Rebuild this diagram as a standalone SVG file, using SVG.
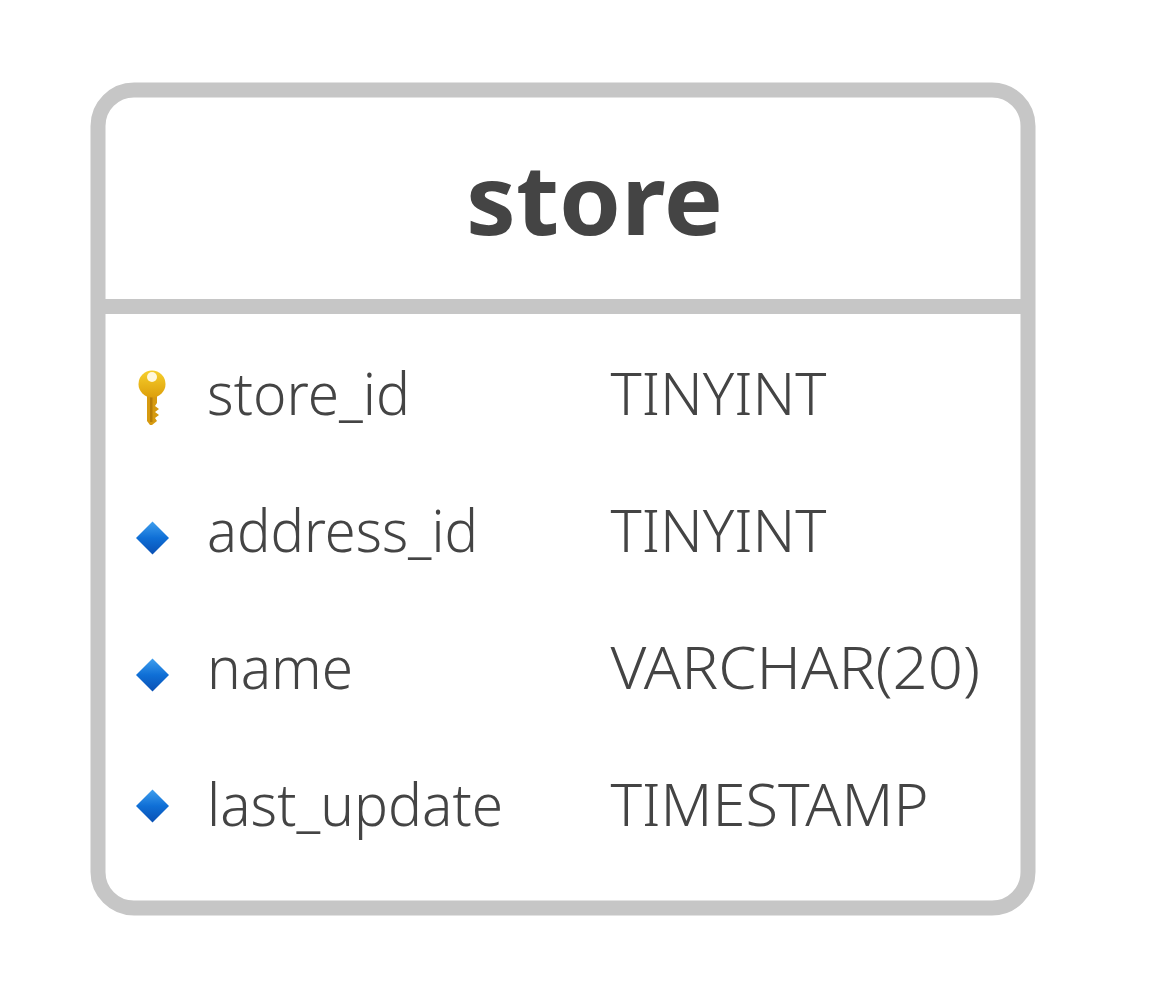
<svg xmlns="http://www.w3.org/2000/svg" width="1154" height="992" viewBox="0 0 1154 992">
<style>
.f{font-family:"Noto Sans","Noto Sans CJK KR",sans-serif;font-size:58px;font-weight:300;fill:#444}
.t{font-family:"Noto Sans","Noto Sans CJK KR",sans-serif;font-size:96px;font-weight:700;fill:#444}
</style>
<defs>
<linearGradient id="d" x1="0" y1="0" x2="0" y2="1"><stop offset="0" stop-color="#3f9fee"/><stop offset=".5" stop-color="#0f6fd6"/><stop offset="1" stop-color="#0a50b4"/></linearGradient>
<linearGradient id="k" x1="0" y1="0" x2="0" y2="1"><stop offset="0" stop-color="#f6cf2c"/><stop offset="1" stop-color="#dd9f0a"/></linearGradient>
<path id="dm" d="M0-16.500 16.500 0 0 16.500-16.500 0Z" fill="url(#d)"/>
</defs>
<rect width="1154" height="992" fill="#fff"/>
<g id="store">
<rect x="98" y="90" width="930" height="818" rx="36" fill="#fff" stroke="#c6c6c6" stroke-width="15"/>
<path d="M98 306.500H1028" stroke="#c6c6c6" stroke-width="15"/>
<text class="t" x="466" y="235" textLength="257" lengthAdjust="spacingAndGlyphs">store</text>
<g id="key"><path d="M147 394h10v9l-2 3 4 3-4 3 4 3-4 3 2 3-5 4h-2l-3-4z" fill="#d69a10"/><path d="M150 396h2.500v26h-2.500z" fill="#b57c08"/><circle cx="152" cy="384" r="13.500" fill="url(#k)"/><circle cx="152" cy="377" r="5" fill="#fff8dc"/></g>
<use href="#dm" x="152.500" y="538"/><use href="#dm" x="152.500" y="675"/><use href="#dm" x="152.500" y="806"/>
<text class="f" x="207" y="415" textLength="203" lengthAdjust="spacingAndGlyphs">store_id</text><text class="f" x="610.500" y="415" textLength="216" lengthAdjust="spacingAndGlyphs">TINYINT</text>
<text class="f" x="207" y="552" textLength="271" lengthAdjust="spacingAndGlyphs">address_id</text><text class="f" x="610.500" y="552" textLength="216" lengthAdjust="spacingAndGlyphs">TINYINT</text>
<text class="f" x="207" y="689" textLength="146" lengthAdjust="spacingAndGlyphs">name</text><text class="f" x="610.500" y="689" textLength="369.500" lengthAdjust="spacingAndGlyphs">VARCHAR(20)</text>
<text class="f" x="207" y="826" textLength="296" lengthAdjust="spacingAndGlyphs">last_update</text><text class="f" x="610.500" y="826" textLength="318" lengthAdjust="spacingAndGlyphs">TIMESTAMP</text>
</g>
<g id="connectors"/>
</svg>
